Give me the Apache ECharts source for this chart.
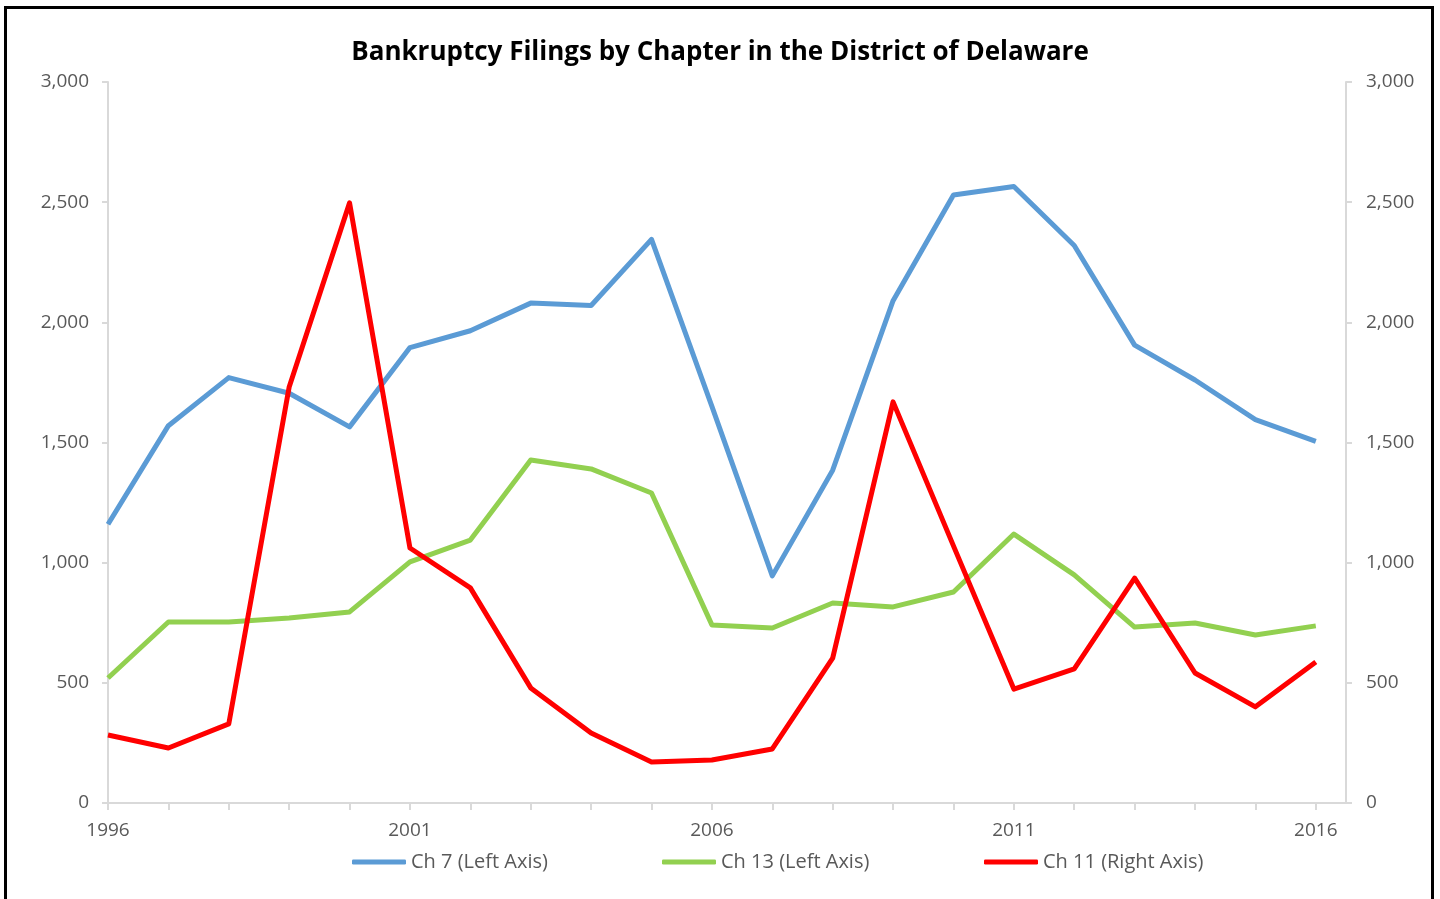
<!DOCTYPE html>
<html>
<head>
<meta charset="utf-8">
<script src="https://cdn.jsdelivr.net/npm/echarts@6/dist/echarts.min.js"></script>
<style>
html, body { margin: 0; padding: 0; background: #fff; overflow: hidden; }
#chart { width: 1440px; height: 899px; }
/* Excel-style black frame round the chart */
#frame {
    position: absolute; left: 4px; top: 6px; width: 1424px; height: 1000px;
    border: 3px solid #000; pointer-events: none;
}
</style>
</head>
<body>
<div id="chart"></div>
<div id="frame"></div>
<script>
// years on the x axis
const years = [1996, 1997, 1998, 1999, 2000, 2001, 2002, 2003, 2004, 2005, 2006,
    2007, 2008, 2009, 2010, 2011, 2012, 2013, 2014, 2015, 2016]
const yearLabels = [1996, 2001, 2006, 2011, 2016]

// filings per chapter
const ch7 = [1160, 1570, 1770, 1705, 1565, 1895, 1965, 2080, 2070, 2345, 1650,
    945, 1385, 2090, 2530, 2565, 2320, 1905, 1760, 1595, 1505]
const ch13 = [520, 753, 753, 770, 795, 1003, 1094, 1427, 1390, 1290, 741,
    728, 832, 816, 878, 1119, 949, 732, 749, 699, 737]
const ch11 = [283, 229, 329, 1731, 2497, 1061, 895, 479, 291, 171, 179,
    225, 603, 1669, 1070, 474, 558, 936, 541, 400, 587]

const font = '"Open Sans", "Noto Sans", sans-serif'
const grey = '#595959'
const axisGrey = '#d9d9d9'

const pairs = arr => years.map((y, i) => [y, arr[i]])

const myChart = echarts.init(document.getElementById('chart'))

const yAxisBase = {
    type: 'value',
    min: 0,
    max: 3000,
    interval: 500,
    splitLine: { show: false },
    axisLine: { show: true, lineStyle: { color: axisGrey, width: 2 } },
    axisTick: { show: true, length: 6, lineStyle: { color: axisGrey, width: 2 } },
    axisLabel: {
        color: grey,
        fontFamily: font,
        fontSize: 19,
        formatter: v => v.toLocaleString('en-US')
    }
}

const legendBase = {
    top: 852,
    padding: 0,
    icon: 'roundRect',
    itemWidth: 54,
    itemHeight: 5,
    itemGap: 4,
    textStyle: { color: grey, fontFamily: font, fontSize: 20 }
}

const option = {
    animation: false,
    title: {
        text: 'Bankruptcy Filings by Chapter in the District of Delaware',
        left: 'center',
        top: 40,
        padding: 0,
        textStyle: { color: '#000', fontFamily: font, fontSize: 26, fontWeight: 'bold' }
    },
    legend: [
        Object.assign({}, legendBase, { left: 352, data: ['Ch 7 (Left Axis)'] }),
        Object.assign({}, legendBase, { left: 662, data: ['Ch 13 (Left Axis)'] }),
        Object.assign({}, legendBase, { left: 984, data: ['Ch 11 (Right Axis)'] })
    ],
    grid: { left: 108, right: 94, top: 82, bottom: 96 },
    xAxis: {
        type: 'value',
        min: 1996,
        max: 2016.5,
        interval: 1,
        splitLine: { show: false },
        axisLine: { lineStyle: { color: axisGrey, width: 2 } },
        axisTick: {
            show: true, length: 7, customValues: years,
            lineStyle: { color: axisGrey, width: 2 }
        },
        axisLabel: {
            customValues: yearLabels,
            formatter: v => String(v),
            margin: 18,
            color: grey,
            fontFamily: font,
            fontSize: 19
        }
    },
    yAxis: [
        Object.assign({}, yAxisBase, {
            position: 'left',
            axisLabel: Object.assign({}, yAxisBase.axisLabel, { margin: 19 })
        }),
        Object.assign({}, yAxisBase, {
            position: 'right',
            axisLabel: Object.assign({}, yAxisBase.axisLabel, { margin: 20 })
        })
    ],
    series: [
        {
            name: 'Ch 7 (Left Axis)',
            type: 'line',
            yAxisIndex: 0,
            data: pairs(ch7),
            showSymbol: false,
            color: '#5B9BD5',
            lineStyle: { width: 5, join: 'round' }
        },
        {
            name: 'Ch 13 (Left Axis)',
            type: 'line',
            yAxisIndex: 0,
            data: pairs(ch13),
            showSymbol: false,
            color: '#92D050',
            lineStyle: { width: 5, join: 'round' }
        },
        {
            name: 'Ch 11 (Right Axis)',
            type: 'line',
            yAxisIndex: 1,
            data: pairs(ch11),
            showSymbol: false,
            color: '#FF0000',
            lineStyle: { width: 5, join: 'round' }
        }
    ]
}

myChart.setOption(option)
</script>
</body>
</html>
